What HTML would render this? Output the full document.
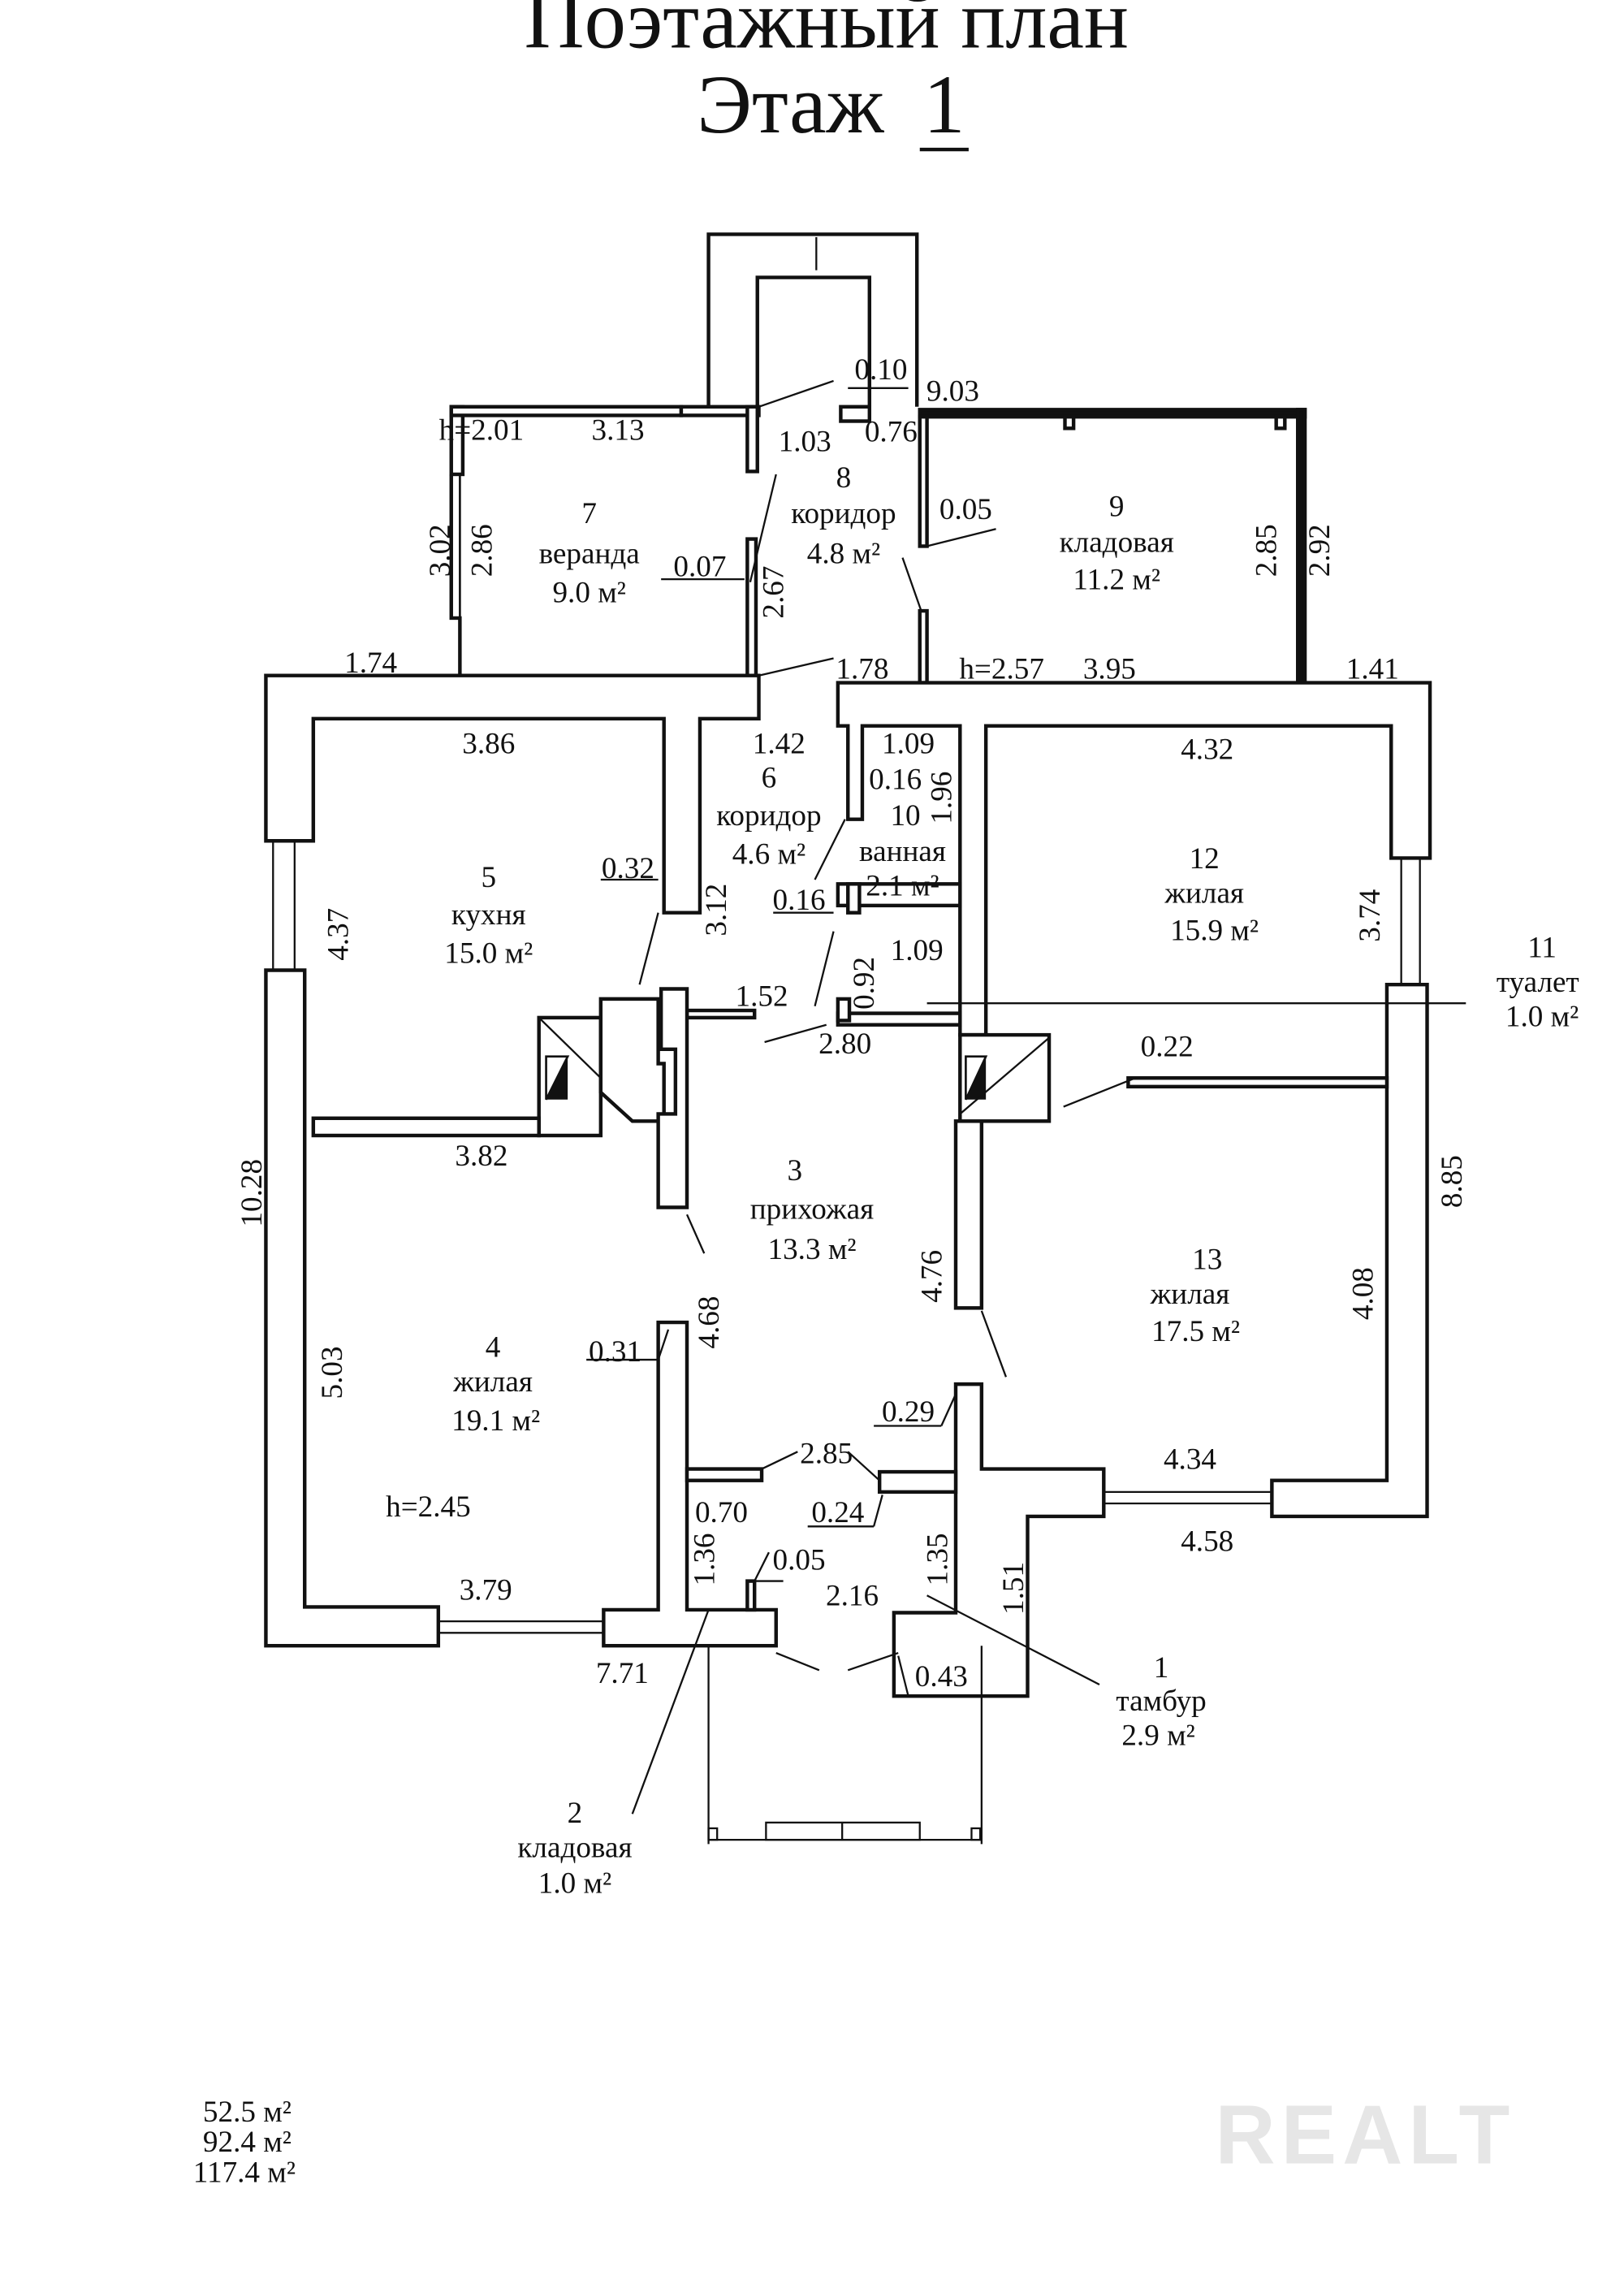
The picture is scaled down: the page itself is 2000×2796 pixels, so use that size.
<!DOCTYPE html>
<html><head><meta charset="utf-8"><style>
html,body{margin:0;padding:0;background:#fff;}
svg{display:block;}
text{font-family:"Liberation Serif",serif;fill:#111;}
</style></head><body>
<svg width="2000" height="2796" viewBox="0 0 1130 1580" preserveAspectRatio="none" xmlns="http://www.w3.org/2000/svg">
<rect width="1130" height="1580" fill="#fff"/>
<g font-size="58" text-anchor="middle">
<text x="575" y="33">Поэтажный план</text>
<text x="550" y="92">Этаж</text>
<text x="657" y="92">1</text>
</g>
<line x1="640" y1="104" x2="674" y2="104" stroke="#111" stroke-width="2.5"/>
<g fill="#fff" stroke="#111" stroke-width="2.5">
<polyline points="493,283 493,163 638,163 638,283" fill="none"/>
<polyline points="527,283 527,193 605,193 605,283" fill="none"/>
<polyline points="320,470 320,430 314,430 314,330" fill="none"/>
<rect x="314" y="283" width="8" height="47"/>
<line x1="314" y1="330" x2="314" y2="430" stroke-width="1.5"/>
<line x1="320" y1="330" x2="320" y2="430" stroke-width="1.5"/>
<rect x="314" y="283" width="160" height="6"/>
<rect x="474" y="283" width="54" height="6"/>
<rect x="520" y="283" width="7" height="45"/>
<rect x="520" y="375" width="6" height="95"/>
<rect x="585" y="283" width="20" height="10"/>
<rect x="640" y="285" width="268" height="5" fill="#111"/>
<rect x="903" y="285" width="5" height="193" fill="#111"/>
<rect x="640" y="290" width="5" height="90"/>
<rect x="640" y="425" width="5" height="50"/>
<rect x="741" y="290" width="6" height="8"/>
<rect x="888" y="290" width="6" height="8"/>
<polygon points="185,470 528,470 528,500 487,500 487,635 462,635 462,500 218,500 218,585 185,585"/>
<polygon points="185,675 212,675 212,1118 305,1118 305,1145 185,1145"/>
<polygon points="420,1120 458,1120 458,920 478,920 478,1120 540,1120 540,1145 420,1145"/>
<polygon points="583,475 995,475 995,597 968,597 968,505 686,505 686,720 668,720 668,505 600,505 600,570 590,570 590,505 583,505"/>
<polygon points="965,685 993,685 993,1055 885,1055 885,1030 965,1030"/>
<polygon points="665,963 683,963 683,1022 768,1022 768,1055 715,1055 715,1180 622,1180 622,1122 665,1122"/>
<rect x="665" y="780" width="18" height="130"/>
<rect x="478" y="1022" width="52" height="8"/>
<rect x="612" y="1024" width="53" height="14"/>
<rect x="520" y="1100" width="5" height="20"/>
<rect x="583" y="615" width="85" height="15"/>
<rect x="590" y="615" width="8" height="20"/>
<rect x="583" y="705" width="85" height="8"/>
<rect x="583" y="695" width="8" height="15"/>
<rect x="478" y="703" width="47" height="5"/>
<rect x="375" y="708" width="43" height="82"/>
<polygon points="418,695 458,695 458,740 462,740 462,780 440,780 418,760"/>
<polygon points="460,688 478,688 478,840 458,840 458,775 470,775 470,730 460,730"/>
<rect x="668" y="720" width="62" height="60"/>
<rect x="218" y="778" width="157" height="12"/>
<rect x="785" y="750" width="180" height="6"/>
</g>
<polygon points="380,735 395,735 380,765" fill="#fff" stroke="#111" stroke-width="1.5"/>
<polygon points="395,735 395,765 380,765" fill="#111"/>
<polygon points="672,735 686,735 672,765" fill="#fff" stroke="#111" stroke-width="1.5"/>
<polygon points="686,735 686,765 672,765" fill="#111"/>
<g stroke="#111" fill="none" stroke-width="1.3">
<line x1="375" y1="708" x2="418" y2="750"/>
<line x1="668" y1="775" x2="730" y2="722"/>
<line x1="190" y1="585" x2="190" y2="675"/><line x1="205" y1="585" x2="205" y2="675"/>
<line x1="975" y1="597" x2="975" y2="685"/><line x1="988" y1="597" x2="988" y2="685"/>
<line x1="305" y1="1128" x2="420" y2="1128"/><line x1="305" y1="1136" x2="420" y2="1136"/>
<line x1="768" y1="1038" x2="885" y2="1038"/><line x1="768" y1="1046" x2="885" y2="1046"/>
<line x1="493" y1="1145" x2="493" y2="1283"/><line x1="683" y1="1145" x2="683" y2="1283"/>
<line x1="493" y1="1280" x2="683" y2="1280"/>
<rect x="533" y="1268" width="107" height="12"/>
<rect x="493" y="1272" width="6" height="8"/><rect x="676" y="1272" width="6" height="8"/>
<line x1="568" y1="165" x2="568" y2="188"/>
<line x1="586" y1="1268" x2="586" y2="1280"/>
<line x1="528" y1="283" x2="580" y2="265"/>
<line x1="590" y1="270" x2="632" y2="270"/>
<line x1="528" y1="470" x2="580" y2="458"/>
<line x1="522" y1="405" x2="540" y2="330"/>
<line x1="460" y1="403" x2="518" y2="403"/>
<line x1="645" y1="380" x2="693" y2="368"/>
<line x1="628" y1="388" x2="641" y2="425"/>
<line x1="418" y1="612" x2="458" y2="612"/>
<line x1="458" y1="635" x2="445" y2="685"/>
<line x1="567" y1="612" x2="588" y2="570"/>
<line x1="538" y1="635" x2="580" y2="635"/>
<line x1="580" y1="648" x2="567" y2="700"/>
<line x1="532" y1="725" x2="575" y2="713"/>
<line x1="645" y1="698" x2="1020" y2="698"/>
<line x1="740" y1="770" x2="790" y2="750"/>
<line x1="478" y1="845" x2="490" y2="872"/>
<line x1="683" y1="912" x2="700" y2="958"/>
<line x1="408" y1="946" x2="458" y2="946"/>
<line x1="458" y1="946" x2="465" y2="925"/>
<line x1="608" y1="992" x2="655" y2="992"/>
<line x1="655" y1="992" x2="665" y2="970"/>
<line x1="530" y1="1022" x2="555" y2="1010"/>
<line x1="590" y1="1010" x2="612" y2="1030"/>
<line x1="562" y1="1062" x2="608" y2="1062"/>
<line x1="608" y1="1062" x2="614" y2="1040"/>
<line x1="525" y1="1100" x2="545" y2="1100"/>
<line x1="525" y1="1100" x2="535" y2="1080"/>
<line x1="540" y1="1150" x2="570" y2="1162"/>
<line x1="590" y1="1162" x2="625" y2="1150"/>
<line x1="632" y1="1180" x2="680" y2="1180"/>
<line x1="625" y1="1152" x2="632" y2="1180"/>
<line x1="645" y1="1110" x2="765" y2="1172"/>
<line x1="493" y1="1120" x2="440" y2="1262"/>
</g>
<g font-size="21" text-anchor="middle">
<text x="613" y="264">0.10</text><text x="663" y="279">9.03</text>
<text x="335" y="306">h=2.01</text><text x="430" y="306">3.13</text>
<text x="560" y="314">1.03</text><text x="620" y="307">0.76</text>
<text x="587" y="339">8</text><text x="587" y="364">коридор</text><text x="587" y="392">4.8 м²</text>
<text x="672" y="361">0.05</text>
<text x="777" y="359">9</text><text x="777" y="384">кладовая</text><text x="777" y="410">11.2 м²</text>
<text x="410" y="364">7</text><text x="410" y="392">веранда</text><text x="410" y="419">9.0 м²</text>
<text x="487" y="401">0.07</text>
<text x="258" y="468">1.74</text><text x="600" y="472">1.78</text>
<text x="697" y="472">h=2.57</text><text x="772" y="472">3.95</text><text x="955" y="472">1.41</text>
<text x="340" y="524">3.86</text><text x="542" y="524">1.42</text><text x="632" y="524">1.09</text><text x="840" y="528">4.32</text>
<text x="535" y="548">6</text><text x="535" y="574">коридор</text><text x="535" y="601">4.6 м²</text>
<text x="623" y="549">0.16</text>
<text x="630" y="574">10</text><text x="628" y="599">ванная</text><text x="628" y="623">2.1 м²</text>
<text x="838" y="604">12</text><text x="838" y="628">жилая</text><text x="845" y="654">15.9 м²</text>
<text x="1073" y="666">11</text><text x="1070" y="690">туалет</text><text x="1073" y="714">1.0 м²</text>
<text x="437" y="611">0.32</text>
<text x="340" y="617">5</text><text x="340" y="643">кухня</text><text x="340" y="670">15.0 м²</text>
<text x="556" y="633">0.16</text><text x="638" y="668">1.09</text>
<text x="530" y="700">1.52</text><text x="588" y="733">2.80</text>
<text x="812" y="735">0.22</text>
<text x="335" y="811">3.82</text>
<text x="553" y="821">3</text><text x="565" y="848">прихожая</text><text x="565" y="876">13.3 м²</text>
<text x="840" y="883">13</text><text x="828" y="907">жилая</text><text x="832" y="933">17.5 м²</text>
<text x="343" y="944">4</text><text x="343" y="968">жилая</text><text x="345" y="995">19.1 м²</text>
<text x="428" y="947">0.31</text>
<text x="632" y="989">0.29</text>
<text x="828" y="1022">4.34</text><text x="575" y="1018">2.85</text>
<text x="502" y="1059">0.70</text><text x="583" y="1059">0.24</text>
<text x="298" y="1055">h=2.45</text>
<text x="840" y="1079">4.58</text>
<text x="556" y="1092">0.05</text><text x="593" y="1117">2.16</text>
<text x="338" y="1113">3.79</text>
<text x="433" y="1171">7.71</text><text x="655" y="1173">0.43</text>
<text x="808" y="1167">1</text><text x="808" y="1190">тамбур</text><text x="806" y="1214">2.9 м²</text>
<text x="400" y="1268">2</text><text x="400" y="1292">кладовая</text><text x="400" y="1317">1.0 м²</text>
<text x="172" y="1476">52.5 м²</text><text x="172" y="1497">92.4 м²</text><text x="170" y="1518">117.4 м²</text>
</g>
<g font-size="21" text-anchor="middle">
<text transform="translate(313,383) rotate(-90)">3.02</text>
<text transform="translate(342,383) rotate(-90)">2.86</text>
<text transform="translate(545,412) rotate(-90)">2.67</text>
<text transform="translate(888,383) rotate(-90)">2.85</text>
<text transform="translate(925,383) rotate(-90)">2.92</text>
<text transform="translate(662,555) rotate(-90)">1.96</text>
<text transform="translate(242,650) rotate(-90)">4.37</text>
<text transform="translate(505,633) rotate(-90)">3.12</text>
<text transform="translate(608,684) rotate(-90)">0.92</text>
<text transform="translate(960,637) rotate(-90)">3.74</text>
<text transform="translate(1017,822) rotate(-90)">8.85</text>
<text transform="translate(182,830) rotate(-90)">10.28</text>
<text transform="translate(655,888) rotate(-90)">4.76</text>
<text transform="translate(955,900) rotate(-90)">4.08</text>
<text transform="translate(500,920) rotate(-90)">4.68</text>
<text transform="translate(238,955) rotate(-90)">5.03</text>
<text transform="translate(497,1085) rotate(-90)">1.36</text>
<text transform="translate(659,1085) rotate(-90)">1.35</text>
<text transform="translate(712,1105) rotate(-90)">1.51</text>
</g>
<text x="950" y="1505" font-size="58" text-anchor="middle" style="fill:#e6e6e6;font-family:'Liberation Sans',sans-serif;font-weight:bold;letter-spacing:4px">REALT</text>
</svg>
</body></html>
